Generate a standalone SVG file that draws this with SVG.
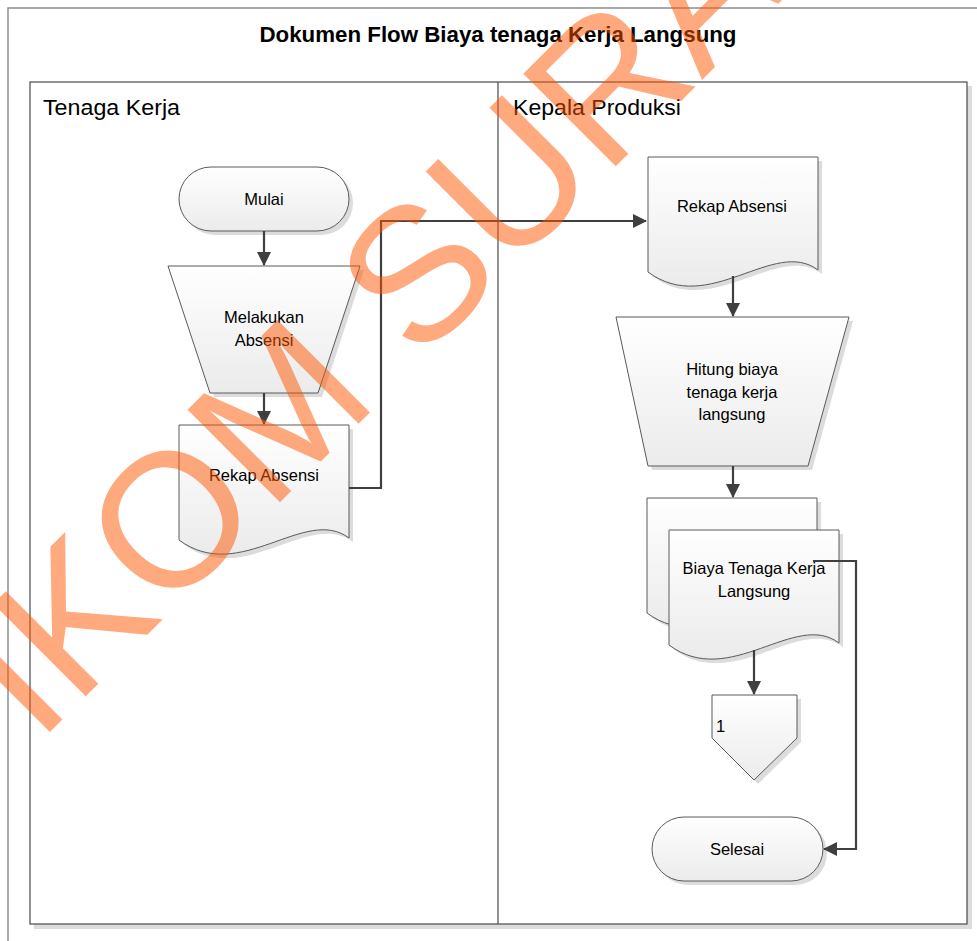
<svg xmlns="http://www.w3.org/2000/svg" width="977" height="941" viewBox="0 0 977 941">
<style>
.t{font-family:"Liberation Sans",Arial,sans-serif;font-size:16.5px;fill:#000;text-anchor:middle}
.shape{fill:url(#g);stroke:#5a5a5a;stroke-width:1}
.sh{fill:#dcdcdc;stroke:none}
.conn{fill:none;stroke:#3f3f3f;stroke-width:2.2}
.lane{fill:none;stroke:#4a4a4a;stroke-width:1.2}
.lbl{font-family:"Liberation Sans",Arial,sans-serif;font-size:22.5px;fill:#000}
</style>
<defs>
<linearGradient id="g" x1="0" y1="0" x2="0" y2="1">
<stop offset="0" stop-color="#ffffff"/>
<stop offset="1" stop-color="#ebebeb"/>
</linearGradient>
<marker id="ah" markerUnits="userSpaceOnUse" markerWidth="14" markerHeight="14" viewBox="0 0 14 14" refX="13" refY="7" orient="auto">
<path d="M0,0 L14,7 L0,14 Z" fill="#3f3f3f"/>
</marker>
</defs>
<rect width="977" height="941" fill="#ffffff"/>
<!-- outer border -->
<path d="M8,941 V8 H977" fill="none" stroke="#8e8e8e" stroke-width="1.5"/>
<!-- title -->
<text x="498" y="42" font-family="'Liberation Sans',Arial,sans-serif" font-size="22" font-weight="bold" text-anchor="middle" textLength="477" lengthAdjust="spacingAndGlyphs">Dokumen Flow Biaya tenaga Kerja Langsung</text>
<!-- swimlanes -->
<g id="lanes">
<rect x="34" y="924" width="937" height="5" class="sh"/>
<rect x="967" y="86" width="5" height="843" class="sh"/>
<rect x="30" y="82" width="937" height="842" fill="#ffffff" class="lane"/>
<line x1="498" y1="82" x2="498" y2="924" class="lane"/>
<text x="43" y="115" class="lbl" textLength="137" lengthAdjust="spacingAndGlyphs">Tenaga Kerja</text>
<text x="513" y="115" class="lbl" textLength="168" lengthAdjust="spacingAndGlyphs">Kepala Produksi</text>
</g>
<g id="mulai">
<rect x="183" y="171" width="170" height="64" rx="32" class="sh"/>
<rect x="179" y="167" width="170" height="64" rx="32" class="shape"/>
<text x="264" y="205" class="t">Mulai</text>
</g>
<g id="melakukan-absensi">
<path d="M172,270 H364 L322,397 H214 Z" class="sh"/>
<path d="M168,266 H360 L318,393 H210 Z" class="shape"/>
<text x="264" y="323" class="t">Melakukan</text>
<text x="264" y="346" class="t">Absensi</text>
</g>
<g id="rekap-absensi-tk">
<path d="M183,429 H353 V542 C309,509 244,589 183,544 Z" class="sh"/>
<path d="M179,425 H349 V538 C305,505 240,585 179,540 Z" class="shape"/>
<text x="264" y="481" class="t">Rekap Absensi</text>
</g>
<g id="rekap-absensi-kp">
<path d="M652,161 H822 V274 C778,241 713,321 652,276 Z" class="sh"/>
<path d="M648,157 H818 V270 C774,237 709,317 648,272 Z" class="shape"/>
<text x="732" y="212" class="t">Rekap Absensi</text>
</g>
<g id="hitung-biaya">
<path d="M620,321 H853 L812,470 H652 Z" class="sh"/>
<path d="M616,317 H849 L808,466 H648 Z" class="shape"/>
<text x="732" y="375" class="t">Hitung biaya</text>
<text x="732" y="398" class="t">tenaga kerja</text>
<text x="732" y="420" class="t">langsung</text>
</g>
<g id="biaya-tenaga-kerja-langsung">
<path d="M651,502 H821 V615 C777,582 712,662 651,617 Z" class="sh"/>
<path d="M647,498 H817 V611 C773,578 708,658 647,613 Z" class="shape"/>
<path d="M673,534 H843 V647 C799,614 734,694 673,649 Z" class="sh"/>
<path d="M669,530 H839 V643 C795,610 730,690 669,645 Z" class="shape"/>
<text x="754" y="574" class="t">Biaya Tenaga Kerja</text>
<text x="754" y="597" class="t">Langsung</text>
</g>
<g id="offpage-1">
<path d="M716,699 H801 V742 L758,784 L716,742 Z" class="sh"/>
<path d="M712,695 H797 V738 L754,780 L712,738 Z" class="shape"/>
<text x="716" y="732" class="t" text-anchor="start" style="text-anchor:start">1</text>
</g>
<g id="selesai">
<rect x="656" y="821" width="171" height="64" rx="32" class="sh"/>
<rect x="652" y="817" width="171" height="64" rx="32" class="shape"/>
<text x="737" y="855" class="t">Selesai</text>
</g>
<g id="connectors">
<path d="M264,231 V265" class="conn" marker-end="url(#ah)"/>
<path d="M264,393 V424" class="conn" marker-end="url(#ah)"/>
<path d="M349,488 H381 V221 H646" class="conn" marker-end="url(#ah)"/>
<path d="M733,276 V316" class="conn" marker-end="url(#ah)"/>
<path d="M733,466 V497" class="conn" marker-end="url(#ah)"/>
<path d="M754,650 V694" class="conn" marker-end="url(#ah)"/>
<path d="M813,561 H856 V849 H824" class="conn" marker-end="url(#ah)"/>
</g>
<!-- watermark -->
<text x="37.5" y="744.6" transform="rotate(-45 37.5 744.6)" font-family="'Liberation Sans',Arial,sans-serif" font-size="190" fill="#ff5500" opacity="0.5">IKOM SURA</text>
</svg>
